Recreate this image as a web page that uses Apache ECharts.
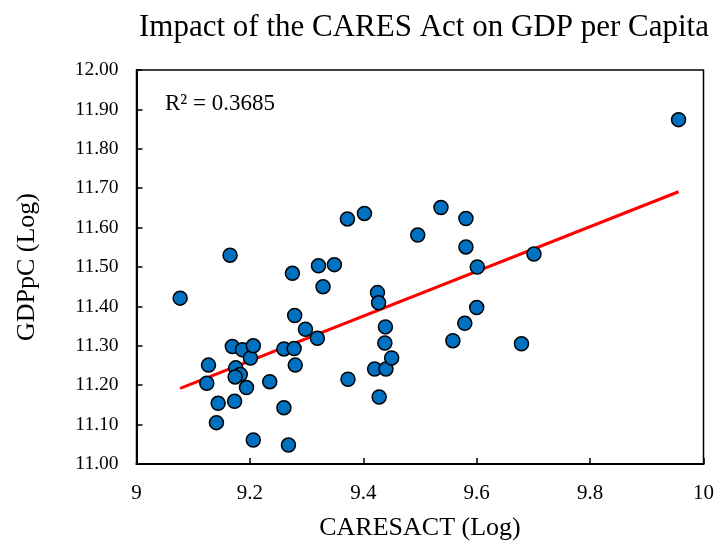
<!DOCTYPE html>
<html>
<head>
<meta charset="utf-8">
<script src="https://cdn.jsdelivr.net/npm/echarts@6/dist/echarts.min.js"></script>
<style>
  html, body { margin: 0; padding: 0; background: #fff; }
  #chart { width: 717px; height: 546px; }
</style>
</head>
<body>
<div id="chart"></div>
<script>
// CARESACT (Log) values
var caresAct = [
  9.077, 9.124, 9.127, 9.141, 9.144, 9.165, 9.169, 9.173, 9.175, 9.183,
  9.174, 9.187, 9.194, 9.201, 9.206, 9.206, 9.235, 9.260, 9.260, 9.268,
  9.275, 9.278, 9.279, 9.280, 9.298, 9.319, 9.321, 9.329, 9.349, 9.372,
  9.373, 9.402, 9.425, 9.427, 9.420, 9.440, 9.428, 9.439, 9.438, 9.450,
  9.496, 9.537, 9.558, 9.579, 9.581, 9.581, 9.600, 9.601, 9.679, 9.701,
  9.956
];
// GDPpC (Log) values
var gdppc = [
  11.421, 11.205, 11.251, 11.105, 11.154, 11.530, 11.298, 11.159, 11.244, 11.227,
  11.221, 11.290, 11.194, 11.269, 11.300, 11.061, 11.209, 11.143, 11.292, 11.048,
  11.484, 11.293, 11.377, 11.251, 11.342, 11.319, 11.503, 11.450, 11.506, 11.622,
  11.215, 11.636, 11.435, 11.409, 11.241, 11.241, 11.170, 11.348, 11.307, 11.269,
  11.581, 11.651, 11.313, 11.357, 11.623, 11.551, 11.397, 11.500, 11.305, 11.533,
  11.874
];
// linear trend line end points
var trendX = [9.077, 9.956];
var trendY = [11.192, 11.691];
var r2Label = 'R² = 0.3685';

var points = caresAct.map(function (x, i) { return [x, gdppc[i]]; });
var trend = trendX.map(function (x, i) { return [x, trendY[i]]; });

var font = '"Liberation Serif", "Times New Roman", serif';
var chart = echarts.init(document.getElementById('chart'));
chart.setOption({
  animation: false,
  title: {
    text: 'Impact of the CARES Act on GDP per Capita',
    left: 419,
    textAlign: 'center',
    top: 7,
    textStyle: { fontFamily: font, fontSize: 31, fontWeight: 'normal', color: '#000' }
  },
  grid: {
    left: 136.5, right: 13.5, top: 70, bottom: 82,
    show: true, borderColor: '#000', borderWidth: 1.5
  },
  xAxis: {
    type: 'value',
    min: 9, max: 10, interval: 0.2,
    name: 'CARESACT (Log)',
    nameLocation: 'middle',
    nameGap: 51,
    nameTextStyle: { fontFamily: font, fontSize: 26, color: '#000' },
    axisLine: { show: true, onZero: false, lineStyle: { color: '#000', width: 2 } },
    axisTick: { show: true, inside: true, length: 6, lineStyle: { color: '#000', width: 1.5 } },
    axisLabel: {
      fontFamily: font, fontSize: 21, color: '#000', margin: 19,
      formatter: function (v) { return String(+v.toFixed(1)); }
    },
    splitLine: { show: false }
  },
  yAxis: {
    type: 'value',
    min: 11, max: 12, interval: 0.1,
    name: 'GDPpC (Log)',
    nameLocation: 'middle',
    nameGap: 96,
    nameTextStyle: { fontFamily: font, fontSize: 26, color: '#000' },
    axisLine: { show: true, onZero: false, lineStyle: { color: '#000', width: 2 } },
    axisTick: { show: true, inside: true, length: 6, lineStyle: { color: '#000', width: 1.5 } },
    axisLabel: {
      fontFamily: font, fontSize: 19.5, color: '#000', margin: 18,
      formatter: function (v) { return v.toFixed(2); }
    },
    splitLine: { show: false }
  },
  graphic: [{
    type: 'text',
    left: 165,
    top: 92,
    style: { text: r2Label, fontFamily: font, fontSize: 23, fill: '#000' }
  }],
  series: [
    {
      type: 'line',
      data: trend,
      symbol: 'none',
      lineStyle: { color: '#FF0000', width: 3 },
      z: 3
    },
    {
      type: 'scatter',
      data: points,
      symbolSize: 14,
      itemStyle: { color: '#0070C0', borderColor: '#000', borderWidth: 1.5, opacity: 1 },
      z: 4
    }
  ]
});
</script>
</body>
</html>
